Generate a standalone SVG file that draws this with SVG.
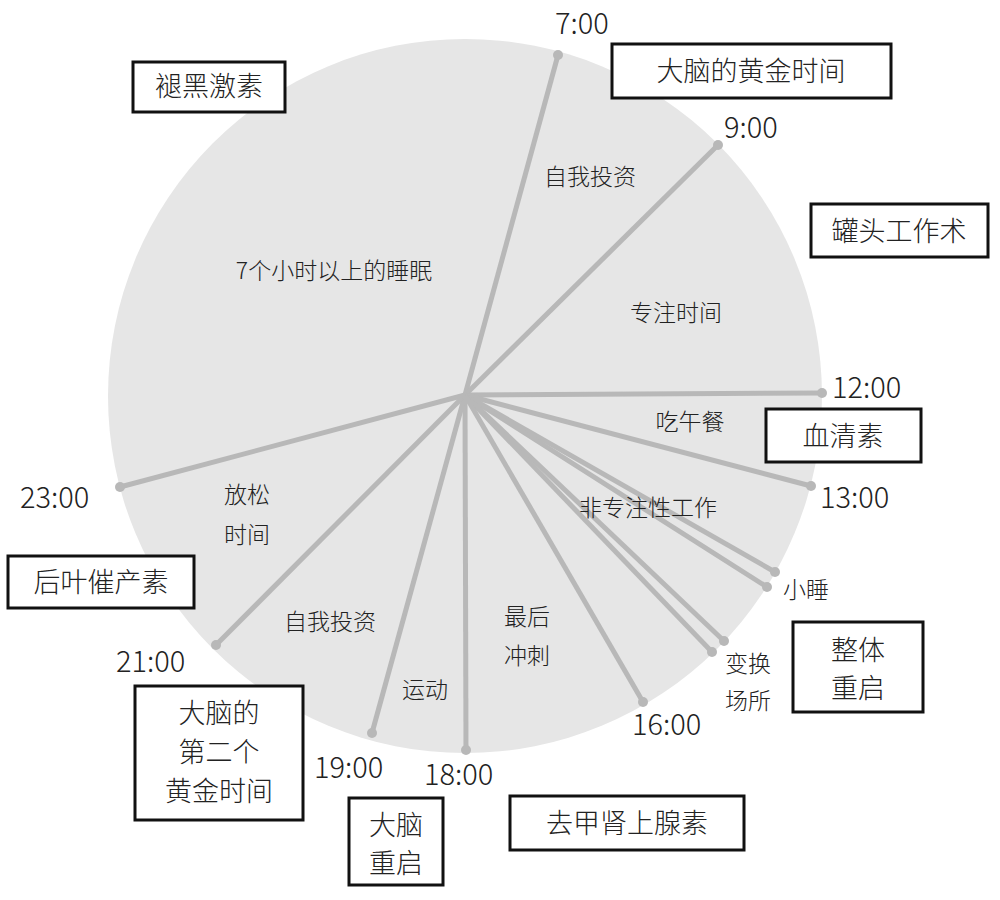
<svg xmlns="http://www.w3.org/2000/svg" width="1000" height="900" viewBox="0 0 1000 900">
<style>
text{font-family:"Noto Sans CJK SC","Liberation Sans",sans-serif;fill:#222;font-weight:300}
.in{font-size:23px;text-anchor:middle}
.t{font-size:29px}
.b rect{fill:#fff;stroke:#111;stroke-width:3}
.b text{font-size:27px;text-anchor:middle}
#connectors line{stroke:#b8b8b8;stroke-width:5}
#connectors circle{fill:#b8b8b8}
</style>
<circle cx="465" cy="396" r="357" fill="#e6e6e6"/>
<g id="connectors">
<line x1="465" y1="395" x2="558" y2="55"/><circle cx="558" cy="55" r="5"/>
<line x1="465" y1="395" x2="718" y2="145"/><circle cx="718" cy="145" r="5"/>
<line x1="465" y1="395" x2="822" y2="393"/><circle cx="822" cy="393" r="5"/>
<line x1="465" y1="395" x2="811" y2="486"/><circle cx="811" cy="486" r="5"/>
<line x1="465" y1="395" x2="775" y2="572"/><circle cx="775" cy="572" r="5"/>
<line x1="465" y1="395" x2="767" y2="587"/><circle cx="767" cy="587" r="5"/>
<line x1="465" y1="395" x2="724" y2="641"/><circle cx="724" cy="641" r="5"/>
<line x1="465" y1="395" x2="712" y2="652"/><circle cx="712" cy="652" r="5"/>
<line x1="465" y1="395" x2="643" y2="702"/><circle cx="643" cy="702" r="5"/>
<line x1="465" y1="395" x2="466" y2="750"/><circle cx="466" cy="750" r="5"/>
<line x1="465" y1="395" x2="372" y2="733"/><circle cx="372" cy="733" r="5"/>
<line x1="465" y1="395" x2="216" y2="645"/><circle cx="216" cy="645" r="5"/>
<line x1="465" y1="395" x2="120" y2="487"/><circle cx="120" cy="487" r="5"/>
</g>
<g id="segments">
<text class="in" x="590" y="185">自我投资</text>
<text class="in" x="334" y="279">7个小时以上的睡眠</text>
<text class="in" x="676" y="321">专注时间</text>
<text class="in" x="690" y="430">吃午餐</text>
<text class="in" x="648" y="516">非专注性工作</text>
<text class="in" x="247" y="503">放松</text><text class="in" x="247" y="543">时间</text>
<text class="in" x="330" y="630">自我投资</text>
<text class="in" x="527" y="625">最后</text><text class="in" x="527" y="664">冲刺</text>
<text class="in" x="425" y="698">运动</text>
<text class="in" x="806" y="598">小睡</text>
<text class="in" x="748" y="672">变换</text><text class="in" x="748" y="709">场所</text>
</g>
<g id="times">
<text class="t" x="555" y="34">7:00</text>
<text class="t" x="724" y="138">9:00</text>
<text class="t" x="832" y="398">12:00</text>
<text class="t" x="820" y="508">13:00</text>
<text class="t" x="632" y="735">16:00</text>
<text class="t" x="424" y="785">18:00</text>
<text class="t" x="314" y="778">19:00</text>
<text class="t" x="116" y="672">21:00</text>
<text class="t" x="20" y="508">23:00</text>
</g>
<g id="box1" class="b"><rect x="133" y="62" width="152" height="50"/><text x="209" y="96">褪黑激素</text></g>
<g id="box2" class="b"><rect x="612" y="44" width="279" height="54"/><text x="751" y="81">大脑的黄金时间</text></g>
<g id="box3" class="b"><rect x="811" y="204" width="177" height="53"/><text x="899" y="241">罐头工作术</text></g>
<g id="box4" class="b"><rect x="766" y="409" width="155" height="53"/><text x="843" y="446">血清素</text></g>
<g id="box5" class="b"><rect x="8" y="556" width="186" height="52"/><text x="101" y="592">后叶催产素</text></g>
<g id="box6" class="b"><rect x="793" y="622" width="130" height="90"/><text x="858" y="660">整体</text><text x="858" y="698">重启</text></g>
<g id="box7" class="b"><rect x="135" y="686" width="168" height="134"/><text x="219" y="723">大脑的</text><text x="219" y="762">第二个</text><text x="219" y="801">黄金时间</text></g>
<g id="box8" class="b"><rect x="349" y="798" width="94" height="87"/><text x="396" y="835">大脑</text><text x="396" y="873">重启</text></g>
<g id="box9" class="b"><rect x="510" y="796" width="234" height="54"/><text x="627" y="833">去甲肾上腺素</text></g>
</svg>
